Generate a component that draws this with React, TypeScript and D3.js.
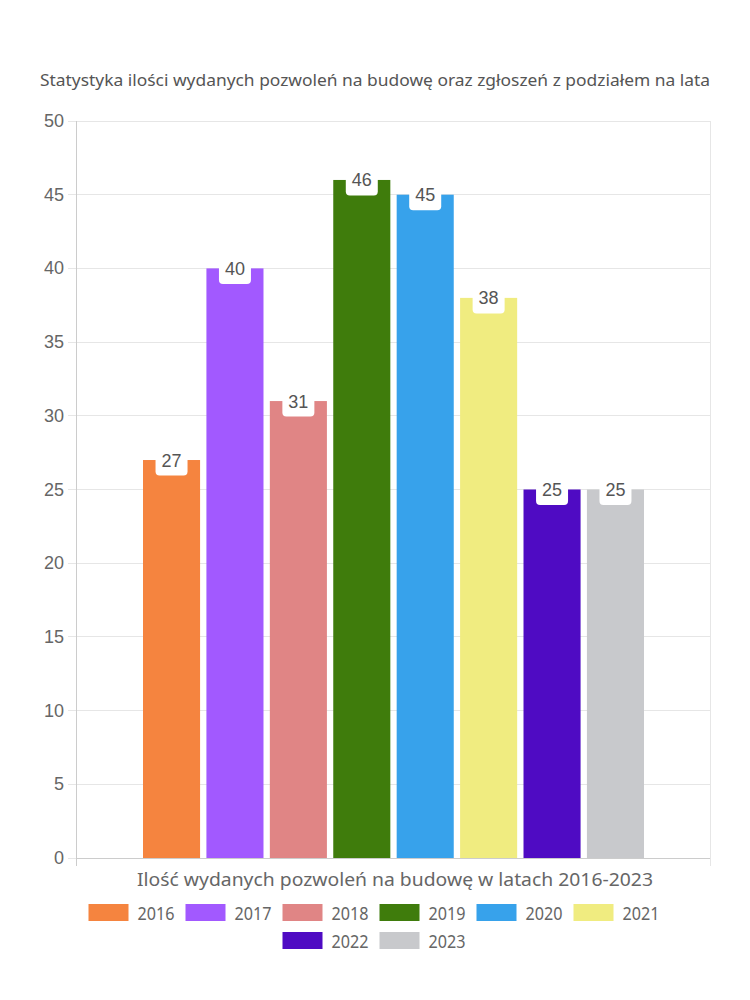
import React, { useEffect, useRef } from "react";
import * as d3 from "d3";

const years = ["2016", "2017", "2018", "2019", "2020", "2021", "2022", "2023"];
const values = [27, 40, 31, 46, 45, 38, 25, 25];
const colors = ["#f5843f", "#a259ff", "#e08585", "#3f7c0c", "#37a2eb", "#f0ec80", "#4f0bc3", "#c8c9cc"];
const yTicks = [0, 5, 10, 15, 20, 25, 30, 35, 40, 45, 50];
const titleText = "Statystyka ilości wydanych pozwoleń na budowę oraz zgłoszeń z podziałem na lata";
const xTitleText = "Ilość wydanych pozwoleń na budowę w latach 2016-2023";
const legendRows = [years.slice(0, 6), years.slice(6)];

const W = 750, H = 1000;
const left = 76, right = 710, top = 121, bottom = 858;
const roundFont = "'Noto Sans', Lato, sans-serif";
const numFont = "'Liberation Sans', Arial, sans-serif";

export default function App() {
  const ref = useRef<SVGSVGElement>(null);
  useEffect(() => {
    const svg = d3.select(ref.current);
    svg.selectAll("*").remove();
    const y = d3.scaleLinear().domain([0, 50]).range([bottom, top]);
    const x = d3.scaleBand().domain(years).range([143, 644]).paddingInner(0.1).paddingOuter(0);

    svg.append("g").selectAll("line").data(yTicks).join("line")
      .attr("x1", 68).attr("x2", right).attr("y1", d => y(d)).attr("y2", d => y(d))
      .attr("stroke", "#e6e6e6").attr("stroke-width", 1).attr("shape-rendering", "crispEdges");
    svg.append("g").selectAll("line").data([left, right]).join("line")
      .attr("x1", d => d).attr("x2", d => d).attr("y1", top).attr("y2", bottom + 8)
      .attr("stroke", "#e6e6e6").attr("shape-rendering", "crispEdges");
    svg.append("line").attr("x1", left).attr("x2", left).attr("y1", top).attr("y2", bottom + 8)
      .attr("stroke", "#ccc").attr("shape-rendering", "crispEdges");
    svg.append("line").attr("x1", left).attr("x2", right).attr("y1", bottom).attr("y2", bottom)
      .attr("stroke", "#ccc").attr("shape-rendering", "crispEdges");

    svg.append("g").selectAll("text").data(yTicks).join("text")
      .attr("x", 64).attr("y", d => y(d) + 6).attr("text-anchor", "end")
      .attr("font-family", numFont).attr("font-size", 18).attr("fill", "#666")
      .text(d => d);

    svg.append("g").selectAll("rect").data(values).join("rect")
      .attr("x", (d, i) => x(years[i])!).attr("width", x.bandwidth())
      .attr("y", d => y(d)).attr("height", d => bottom - y(d))
      .attr("fill", (d, i) => colors[i]);

    const lab = svg.append("g").selectAll("g").data(values).join("g")
      .attr("transform", (d, i) => `translate(${x(years[i])! + x.bandwidth() / 2},${y(d)})`);
    lab.append("rect").attr("x", -16).attr("y", -16.5).attr("width", 32).attr("height", 32)
      .attr("rx", 4).attr("fill", "#fff");
    lab.append("text").attr("y", 6.5).attr("text-anchor", "middle")
      .attr("font-family", numFont).attr("font-size", 18).attr("fill", "#555")
      .text(d => d);

    svg.append("text").attr("x", 375).attr("y", 86).attr("text-anchor", "middle")
      .attr("font-family", roundFont).attr("font-size", 16).attr("fill", "#555")
      .attr("textLength", 670).attr("lengthAdjust", "spacingAndGlyphs")
      .text(titleText);
    svg.append("text").attr("x", 395).attr("y", 886).attr("text-anchor", "middle")
      .attr("font-family", roundFont).attr("font-size", 18).attr("fill", "#666")
      .attr("textLength", 516).attr("lengthAdjust", "spacingAndGlyphs")
      .text(xTitleText);

    const tw = 37;
    legendRows.forEach((row, ri) => {
      const g = svg.append("g");
      let cx = 0;
      row.forEach(yr => {
        const idx = years.indexOf(yr);
        const it = g.append("g").attr("transform", `translate(${cx},0)`);
        it.append("rect").attr("x", 0).attr("y", -8.5).attr("width", 40).attr("height", 17)
          .attr("fill", colors[idx]);
        it.append("text").attr("x", 49).attr("y", 7)
          .attr("font-family", roundFont).attr("font-size", 18).attr("fill", "#666")
          .attr("textLength", tw).attr("lengthAdjust", "spacingAndGlyphs").text(yr);
        cx += 49 + tw + 11;
      });
      const total = cx - 11;
      g.attr("transform", `translate(${374 - total / 2},${912.5 + ri * 28})`);
    });
  }, []);
  return <svg ref={ref} width={W} height={H} style={{ display: "block", position: "absolute", left: 0, top: 0 }} />;
}
